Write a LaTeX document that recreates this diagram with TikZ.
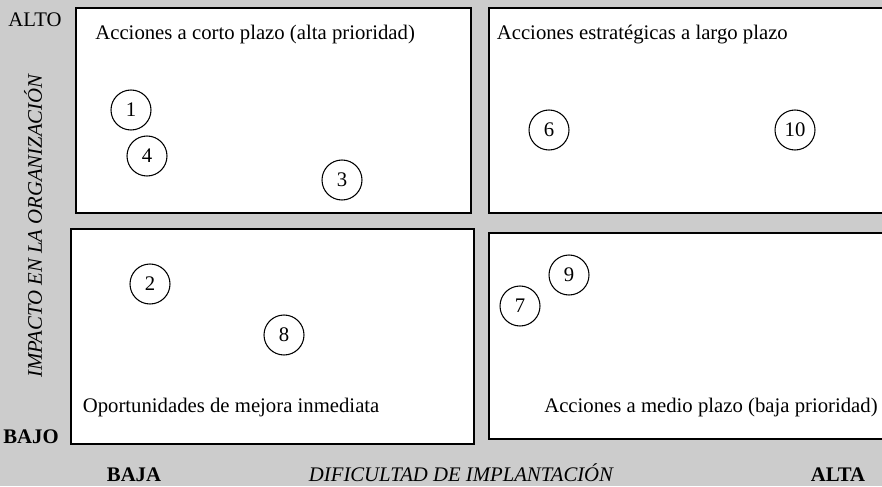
\documentclass[tikz,border=0pt]{standalone}
\usepackage{fontspec}
\setmainfont{Liberation Serif}

\definecolor{bggray}{HTML}{CCCCCC}

\newcommand*{\figw}{17.64}
\newcommand*{\figh}{9.72}

\begin{document}
\begin{tikzpicture}
[
	font=\fontsize{11.8}{14}\selectfont,
	quad/.style={draw=black,fill=white,line width=0.6pt},
	item/.style={circle,draw,line width=0.6pt,inner sep=0pt,minimum size=0.8cm},
	title/.style={inner sep=0pt,anchor=base west},
	axis/.style={inner sep=0pt,anchor=base,font=\fontsize{11.8}{14}\selectfont\itshape},
	level/.style={inner sep=0pt,anchor=base,font=\fontsize{11.8}{14}\selectfont\bfseries}
]

	% background
	\clip (0,0) rectangle (\figw,\figh);
	\fill[bggray] (0,0) rectangle (\figw,\figh);

	% quadrants
	\draw[quad] (1.52,5.46) rectangle (9.42,9.56);
	\draw[quad] (9.78,5.46) rectangle (17.80,9.56);
	\draw[quad,line width=0.9pt] (1.42,0.84) rectangle (9.48,5.14);
	\draw[quad] (9.78,0.94) rectangle (17.80,5.06);

	% quadrant titles
	\node[title] (tl) at (1.90,8.93) {Acciones a corto plazo (alta prioridad)};
	\node[title] (tr) at (9.93,8.93) {Acciones estratégicas a largo plazo};
	\node[title] (bl) at (1.65,1.47) {Oportunidades de mejora inmediata};
	\node[title,anchor=base east] (br) at (17.56,1.47) {Acciones a medio plazo (baja prioridad)};

	% items
	\foreach \n/\x/\y in {1/2.62/7.52, 4/2.94/6.60, 3/6.84/6.12, 6/10.98/7.12, 10/15.90/7.12,
		2/3.00/4.04, 8/5.68/3.02, 9/11.38/4.22, 7/10.40/3.60} {
		\node[item] (c\n) at (\x,\y) {\n};
	}

	% axes
	\node[level,font=\fontsize{11.8}{14}\selectfont] (alto) at (0.70,9.18) {ALTO};
	\node[level] (bajo) at (0.62,0.86) {BAJO};
	\node[level] (baja) at (2.68,0.10) {BAJA};
	\node[level] (alta) at (16.76,0.10) {ALTA};
	\node[axis] (difi) at (9.22,0.10) {DIFICULTAD DE IMPLANTACIÓN};
	\node[axis,anchor=center,rotate=90] (impa) at (0.66,5.20) {IMPACTO EN LA ORGANIZACIÓN};

\end{tikzpicture}
\end{document}
